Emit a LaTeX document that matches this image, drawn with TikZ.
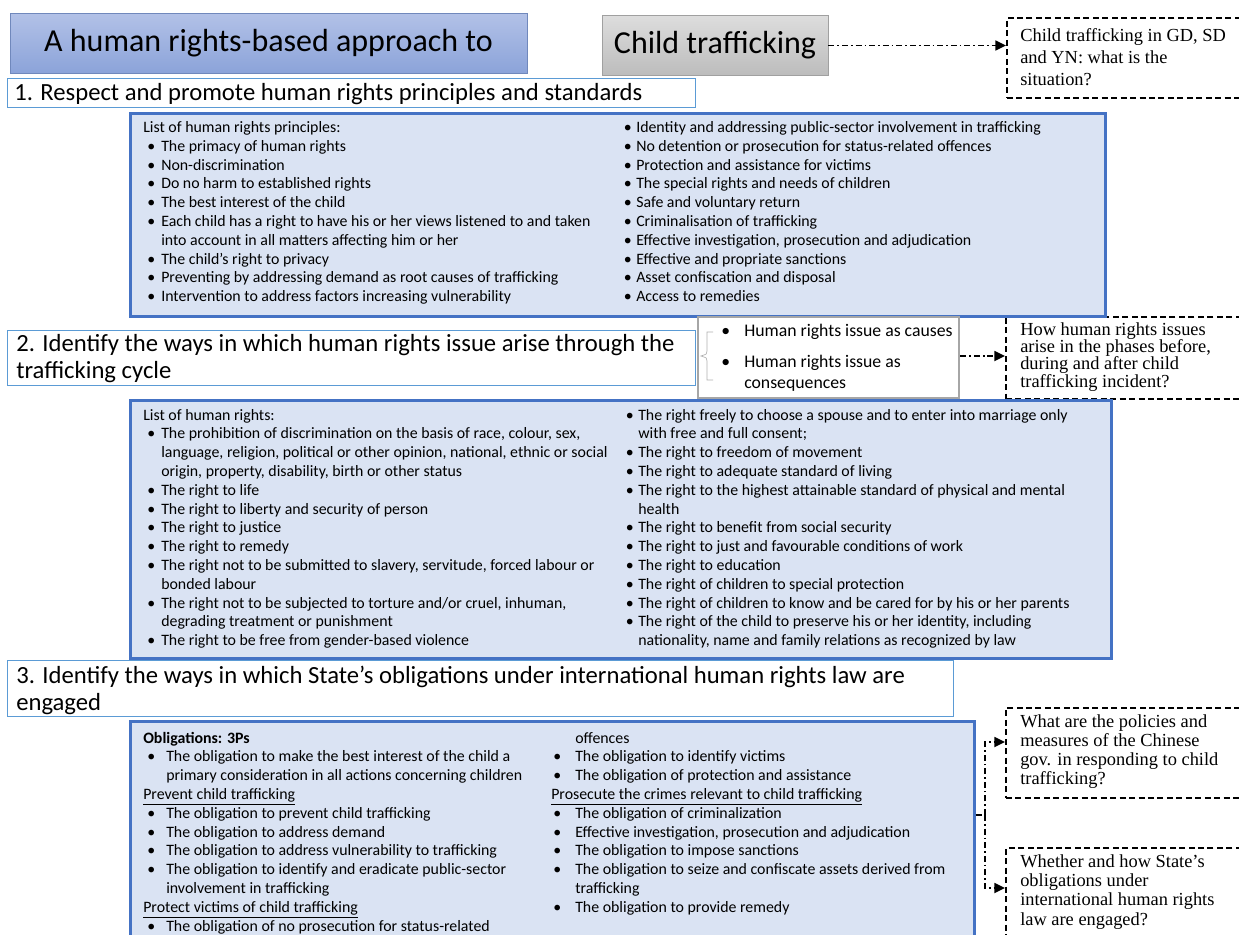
\documentclass[tikz,border=0pt]{standalone}
\usepackage{fontspec}
\setmainfont{Carlito}
\newfontfamily\qfont{Liberation Serif}
\usetikzlibrary{arrows.meta}
\definecolor{secblue}{HTML}{5B9BD5}
\definecolor{listblue}{HTML}{4472C4}
\definecolor{listfill}{HTML}{DAE3F3}
\definecolor{tonetop}{HTML}{B2C1E7}
\definecolor{tonebot}{HTML}{8BA3D9}
\definecolor{toneedge}{HTML}{7088BC}
\definecolor{ttwotop}{HTML}{DDDDDD}
\definecolor{ttwobot}{HTML}{BCBCBC}
\definecolor{ttwoedge}{HTML}{A0A0A0}
\definecolor{grayedge}{HTML}{A6A6A6}
\definecolor{bracegray}{HTML}{B0B0B0}
\newlength\bhang \newlength\bpre
\newcommand\bi[1]{\par\noindent\hangindent=\bhang\hangafter=1\makebox[\bhang][l]{\hspace{\bpre}\textbullet}#1}
\newcommand\hd[1]{\par\noindent #1}
\newcommand\ml[2]{\parbox[t]{#1}{\raggedright #2}}
\newcommand\lfont{\fontsize{11.9}{14.1}\selectfont}
\tikzset{
  hdrbox/.style={draw=secblue, line width=1.1pt, fill=white, inner sep=0pt, anchor=north west},
  lstbox/.style={draw=listblue, line width=1.9pt, fill=listfill, inner sep=0pt, anchor=north west},
  qbox/.style={draw=black, line width=1.45pt, dash pattern=on 4.5pt off 2.6pt, inner sep=0pt, anchor=north west},
  conn/.style={line width=1.3pt, dash pattern=on 4.5pt off 2.2pt on 1.3pt off 2.2pt},
  connarrow/.style={conn, -{Triangle[length=8pt,width=7.5pt]}},
  txt/.style={anchor=base west, inner sep=0pt},
  hdrtext/.style={txt, font=\fontsize{18.5}{20.25}\selectfont},
  qtext/.style={txt, font=\qfont\fontsize{13.8}{16.5}\selectfont},
}
\begin{document}
\begin{tikzpicture}[x=0.75pt,y=-0.75pt]
\useasboundingbox (0,0) rectangle (1239,935);
\clip (0,0) rectangle (1239,935);
% titles
\node[draw=toneedge, line width=0.6pt, top color=tonetop, bottom color=tonebot, minimum width=387.75pt, minimum height=45pt, inner sep=0pt, font=\fontsize{24}{28}\selectfont] (t1) at (268.5,43.5) {A human rights-based approach to};
\node[draw=ttwoedge, line width=0.6pt, top color=ttwotop, bottom color=ttwobot, minimum width=169.5pt, minimum height=45pt, inner sep=0pt, font=\fontsize{24}{28}\selectfont] (t2) at (715,45.5) {Child trafficking};
% question boxes
\node[qbox, minimum width=260pt, minimum height=60pt] (q1) at (1006,17) {};
\node[qtext] (q1t) at (1020,41) {\ml{200pt}{Child trafficking in GD, SD\\and YN: what is the\\situation?}};
\node[qbox, minimum width=260pt, minimum height=61.5pt] (q2) at (1005,316) {};
\node[qtext, font=\qfont\fontsize{13.8}{13}\selectfont] (q2t) at (1020,335) {\ml{200pt}{How human rights issues\\arise in the phases before,\\during and after child\\trafficking incident?}};
\node[qbox, minimum width=260pt, minimum height=67.5pt] (q3) at (1005,707) {};
\node[qtext, font=\qfont\fontsize{13.8}{14.25}\selectfont] (q3t) at (1020,727) {\ml{200pt}{What are the policies and\\measures of the Chinese\\gov. in responding to child\\trafficking?}};
\node[qbox, minimum width=260pt, minimum height=90pt] (q4) at (1005,847) {};
\node[qtext, font=\qfont\fontsize{13.8}{14.5}\selectfont] (q4t) at (1020,867) {\ml{200pt}{Whether and how State’s\\obligations under\\international human rights\\law are engaged?}};
% section 1
\node[hdrbox, minimum width=516pt, minimum height=21.75pt] (s1) at (7,78) {};
\node[hdrtext] (s1t) at (14,100) {1. Respect and promote human rights principles and standards};
\node[lstbox, minimum width=731.25pt, minimum height=152.25pt] (l1) at (129,112) {};
\node[txt] (l1a) at (143,132.5) {\parbox[t]{360pt}{\lfont\setlength\bhang{13.5pt}\setlength\bpre{3pt}%
\hd{List of human rights principles:}
\bi{The primacy of human rights}
\bi{Non-discrimination}
\bi{Do no harm to established rights}
\bi{The best interest of the child}
\bi{Each child has a right to have his or her views listened to and taken\newline into account in all matters affecting him or her}
\bi{The child’s right to privacy}
\bi{Preventing by addressing demand as root causes of trafficking}
\bi{Intervention to address factors increasing vulnerability}}};
\node[txt] (l1b) at (623,132.5) {\parbox[t]{360pt}{\lfont\setlength\bhang{9.75pt}\setlength\bpre{0.5pt}%
\bi{Identity and addressing public-sector involvement in trafficking}
\bi{No detention or prosecution for status-related offences}
\bi{Protection and assistance for victims}
\bi{The special rights and needs of children}
\bi{Safe and voluntary return}
\bi{Criminalisation of trafficking}
\bi{Effective investigation, prosecution and adjudication}
\bi{Effective and propriate sanctions}
\bi{Asset confiscation and disposal}
\bi{Access to remedies}}};
% section 2
\node[hdrbox, minimum width=516pt, minimum height=41.25pt] (s2) at (7,330) {};
\node[hdrtext] (s2t) at (16,351) {\ml{520pt}{2. Identify the ways in which human rights issue arise through the\\trafficking cycle}};
\node[draw=grayedge, line width=1.7pt, fill=white, inner sep=0pt, anchor=north west, minimum width=195.75pt, minimum height=60.75pt] (g) at (697,316) {};
\draw[bracegray, line width=0.5pt] (713,332) -- (707,332) -- (707,351) .. controls (707,354) .. (701,356) .. controls (707,358) .. (707,361) -- (707,380) -- (713,380);
\node[txt] (gt) at (721,336) {\parbox[t]{200pt}{\fontsize{13.3}{15.75}\selectfont\setlength\bhang{17.25pt}\setlength\bpre{0pt}%
\bi{Human rights issue as causes}\par\vspace{7.5pt}
\bi{Human rights issue as\newline consequences}}};
\node[lstbox, minimum width=735.75pt, minimum height=193.5pt] (l2) at (129,399) {};
\node[txt] (l2a) at (143,420) {\parbox[t]{360pt}{\lfont\setlength\bhang{13.5pt}\setlength\bpre{3pt}%
\hd{List of human rights:}
\bi{The prohibition of discrimination on the basis of race, colour, sex,\newline language, religion, political or other opinion, national, ethnic or social\newline origin, property, disability, birth or other status}
\bi{The right to life}
\bi{The right to liberty and security of person}
\bi{The right to justice}
\bi{The right to remedy}
\bi{The right not to be submitted to slavery, servitude, forced labour or\newline bonded labour}
\bi{The right not to be subjected to torture and/or cruel, inhuman,\newline degrading treatment or punishment}
\bi{The right to be free from gender-based violence}}};
\node[txt] (l2b) at (625,420) {\parbox[t]{360pt}{\lfont\setlength\bhang{9.75pt}\setlength\bpre{0.5pt}%
\bi{The right freely to choose a spouse and to enter into marriage only\newline with free and full consent;}
\bi{The right to freedom of movement}
\bi{The right to adequate standard of living}
\bi{The right to the highest attainable standard of physical and mental\newline health}
\bi{The right to benefit from social security}
\bi{The right to just and favourable conditions of work}
\bi{The right to education}
\bi{The right of children to special protection}
\bi{The right of children to know and be cared for by his or her parents}
\bi{The right of the child to preserve his or her identity, including\newline nationality, name and family relations as recognized by law}}};
% section 3
\node[hdrbox, minimum width=709.5pt, minimum height=42pt] (s3) at (7,660) {};
\node[hdrtext] (s3t) at (16,683) {\ml{720pt}{3. Identify the ways in which State’s obligations under international human rights law are\\engaged}};
\node[lstbox, minimum width=633pt, minimum height=180pt] (l3) at (129,720) {};
\node[txt] (l3a) at (143,743) {\parbox[t]{330pt}{\lfont\setlength\bhang{17.25pt}\setlength\bpre{3pt}%
\hd{\textbf{Obligations: 3Ps}}
\bi{The obligation to make the best interest of the child a\newline primary consideration in all actions concerning children}
\hd{\underline{Prevent child trafficking}}
\bi{The obligation to prevent child trafficking}
\bi{The obligation to address demand}
\bi{The obligation to address vulnerability to trafficking}
\bi{The obligation to identify and eradicate public-sector\newline involvement in trafficking}
\hd{\underline{Protect victims of child trafficking}}
\bi{The obligation of no prosecution for status-related}}};
\node[txt] (l3b) at (551,743) {\parbox[t]{330pt}{\lfont\setlength\bhang{18pt}\setlength\bpre{1.5pt}%
\hd{\hspace{18pt}offences}
\bi{The obligation to identify victims}
\bi{The obligation of protection and assistance}
\hd{\underline{Prosecute the crimes relevant to child trafficking}}
\bi{The obligation of criminalization}
\bi{Effective investigation, prosecution and adjudication}
\bi{The obligation to impose sanctions}
\bi{The obligation to seize and confiscate assets derived from\newline trafficking}
\bi{The obligation to provide remedy}}};
% connectors
\draw[connarrow] (t2.east) -- (q1.west |- t2.east);
\draw[connarrow] (g.east |- 0,356) -- (q2.west |- 0,356);
\coordinate (j) at (985,815);
\draw[conn] (l3.east |- j) -- (j);
\draw[connarrow] (j) |- (q3.west |- 0,742);
\draw[connarrow] (j) |- (q4.west |- 0,888);
\end{tikzpicture}
\end{document}
